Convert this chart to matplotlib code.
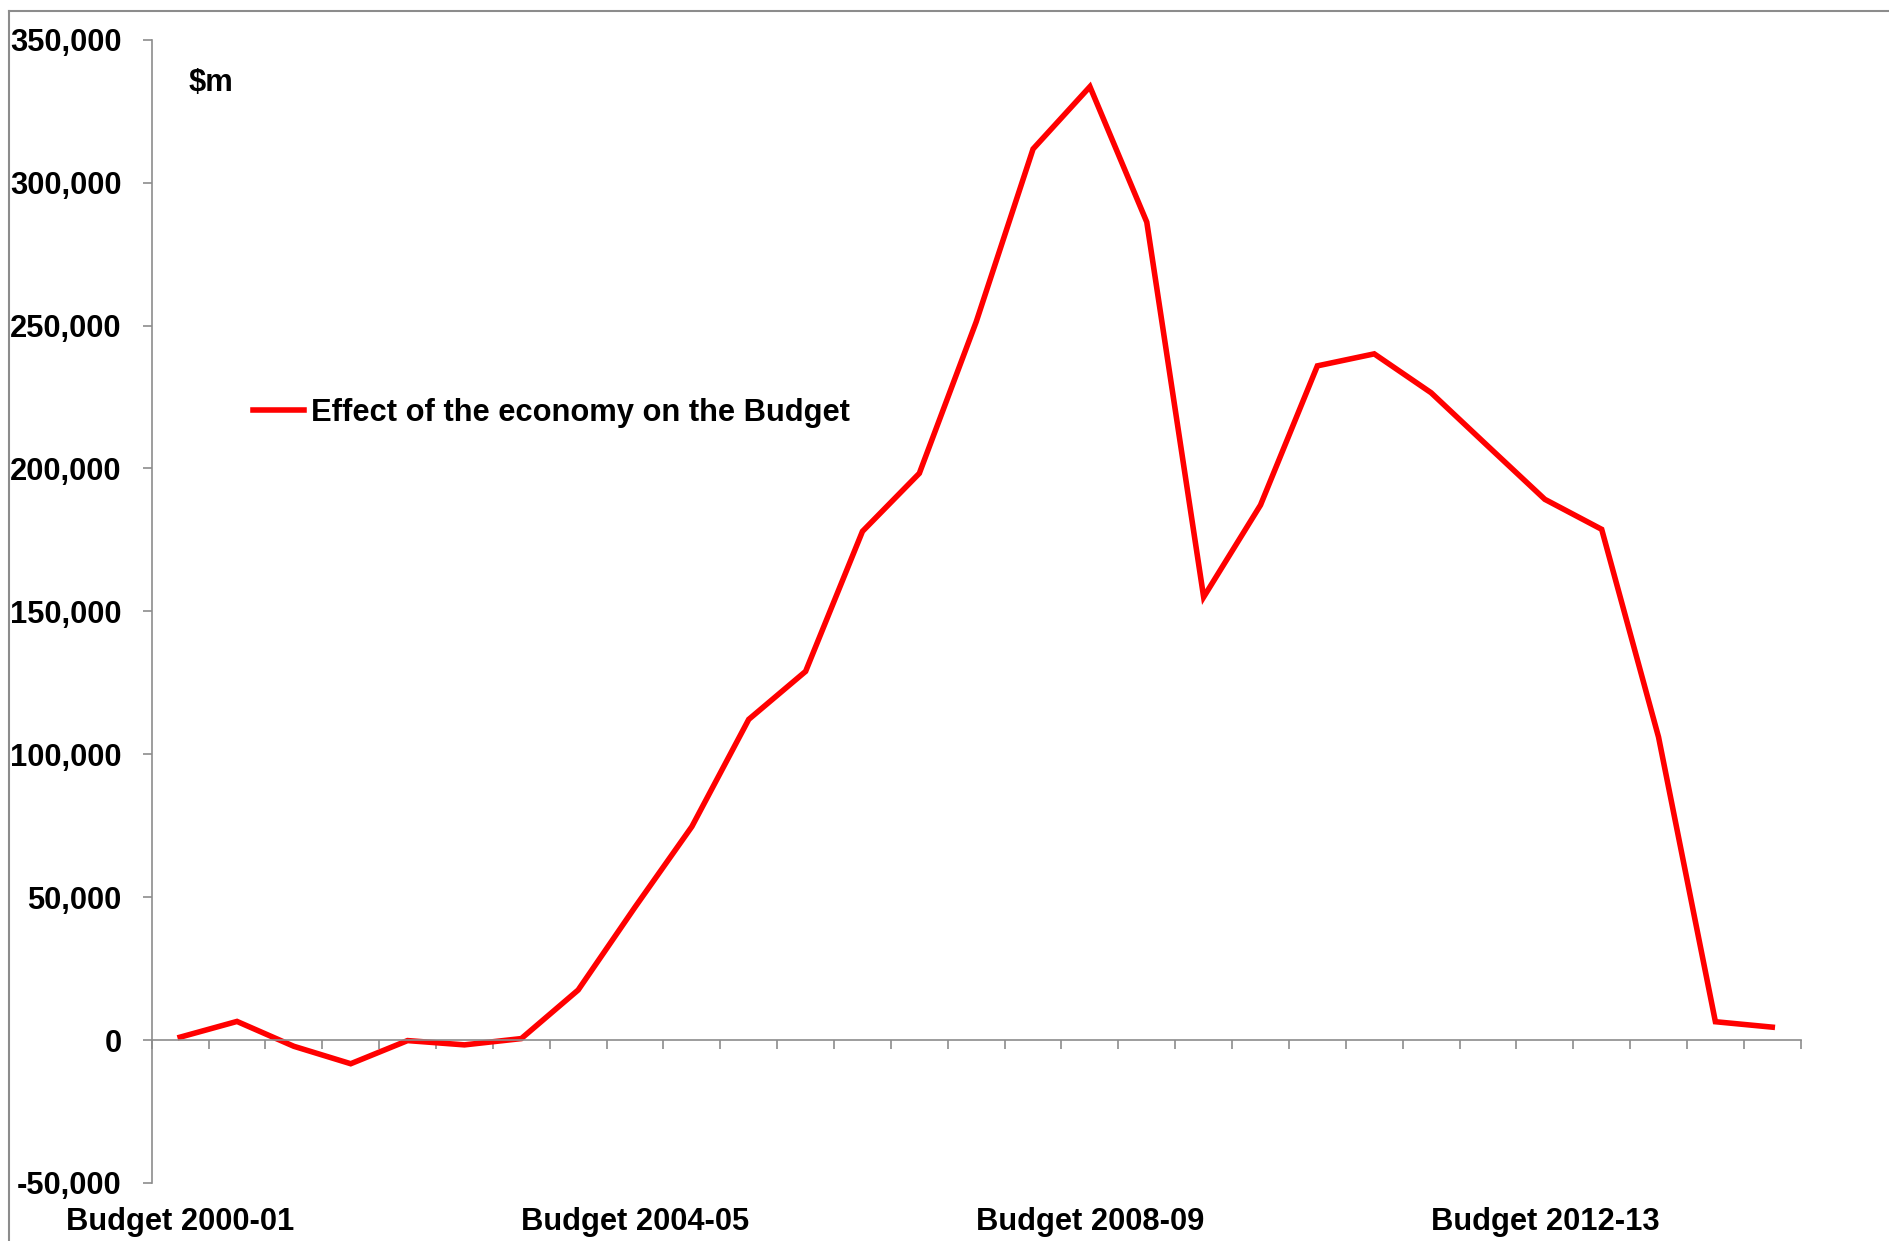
import matplotlib
matplotlib.use("Agg")
import matplotlib.pyplot as plt
from matplotlib.lines import Line2D
import numpy as np

plt.rcParams['font.family'] = ['Liberation Sans', 'DejaVu Sans']
plt.rcParams['font.weight'] = 'bold'

# Budget / MYEFO rounds, two per year, 2000-01 Budget onwards ($m)
effect = [1000, 6500, -2200, -8300, -200, -1700, 500, 17500,
          46500, 74700, 112200, 129000, 178000, 198300, 251300, 311800,
          333600, 286200, 155000, 187200, 235900, 240100, 226500, 207800,
          189200, 178700, 106000, 6400, 4500]
x_labels = {0: 'Budget 2000-01', 8: 'Budget 2004-05',
            16: 'Budget 2008-09', 24: 'Budget 2012-13'}
y_ticks = [-50000, 0, 50000, 100000, 150000, 200000, 250000, 300000, 350000]

W, H = 1890, 1241
fig = plt.figure(figsize=(W / 100, H / 100), dpi=100)
ax = fig.add_axes([151.7 / W, 1 - 1182.9 / H, 1649 / W, 1143.1 / H])

grey = '#8c8c8c'
fs = 22.2
xs = np.arange(len(effect))
ax.plot(xs, effect, color='#ff0000', lw=4.0, solid_joinstyle='miter',
        label='Effect of the economy on the Budget')

ax.set_xlim(-0.5, len(effect) - 0.5)
ax.set_ylim(-50000, 350000)

for s in ['top', 'right']:
    ax.spines[s].set_visible(False)
ax.spines['left'].set_color(grey)
ax.spines['left'].set_linewidth(1.2)
ax.spines['bottom'].set_position(('data', 0))
ax.spines['bottom'].set_color(grey)
ax.spines['bottom'].set_linewidth(1.2)

ax.set_yticks(y_ticks)
ax.set_yticklabels([f'{v:,}' for v in y_ticks])
ax.tick_params(axis='y', direction='out', length=6.5, width=1.2, color=grey,
               labelsize=fs, pad=15)

ax.set_xticks(np.arange(len(effect) + 1) - 0.5)
ax.set_xticklabels([])
ax.tick_params(axis='x', direction='out', length=6.7, width=1.2, color=grey)

for i, lab in x_labels.items():
    ax.text(i, -0.0345, lab, transform=ax.get_xaxis_transform(),
            ha='center', va='center', fontsize=fs, fontweight='bold')

fig.text(189 / W, 1 - 83 / H, '$m', ha='left', va='center',
         fontsize=fs, fontweight='bold')

leg = ax.legend(loc='center left', bbox_to_anchor=(253 / W, 1 - 413 / H),
                bbox_transform=fig.transFigure, frameon=False,
                fontsize=fs, handlelength=1.67, handletextpad=0.2,
                borderpad=0, borderaxespad=0)
for t in leg.get_texts():
    t.set_fontweight('bold')

# outer chart border
fig.add_artist(Line2D([9 / W, 1.0], [1 - 11 / H, 1 - 11 / H],
                      transform=fig.transFigure, color=grey, lw=1.5))
fig.add_artist(Line2D([9 / W, 9 / W], [1 - 11 / H, 0.0],
                      transform=fig.transFigure, color=grey, lw=1.5))

fig.savefig('out.png', dpi=100)
